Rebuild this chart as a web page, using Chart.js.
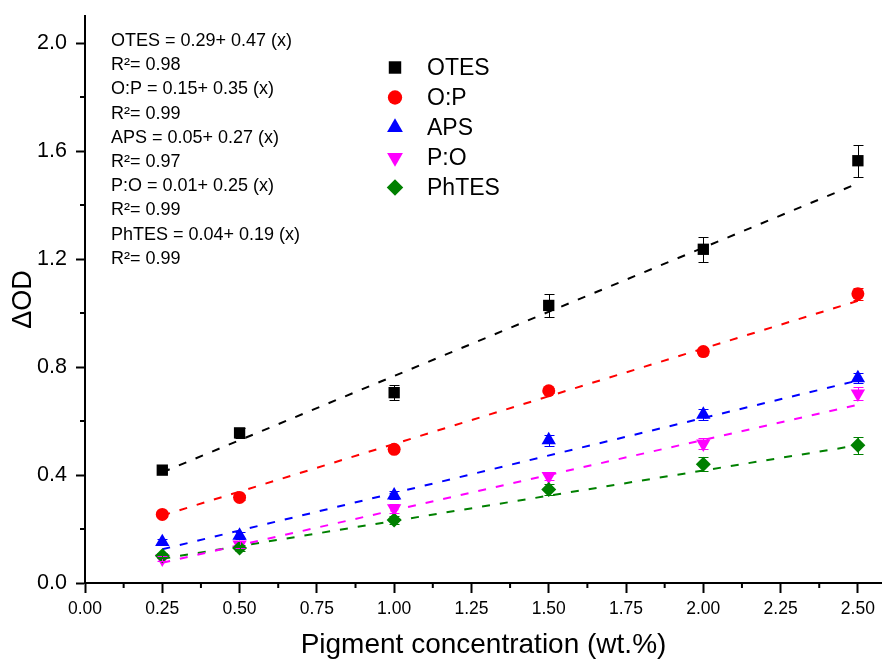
<!DOCTYPE html>
<html lang="en">
  <head>
    <meta charset="UTF-8" />
    <meta name="viewport" content="width=device-width, initial-scale=1.0" />
    <script src="https://cdn.jsdelivr.net/npm/chart.js@4.4.0/dist/chart.umd.min.js"></script>
    <title>Pigment concentration vs ΔOD</title>
    <style>
      body { margin: 0; background: #fff; overflow: hidden; }
      #wrap { width: 882px; height: 659px; }
    </style>
  </head>
  <body>
    <div id="wrap"><canvas id="myChart"></canvas></div>

    <script>
      // measured points (x = wt.%)
      const concentrations = [0.25, 0.5, 1.0, 1.5, 2.0, 2.5];
      const seriesNames = ["OTES", "O:P", "APS", "P:O", "PhTES"];

      const otes = [0.418, 0.556, 0.705, 1.028, 1.236, 1.564];
      const op = [0.254, 0.317, 0.495, 0.712, 0.857, 1.071];
      const aps = [0.152, 0.176, 0.325, 0.529, 0.624, 0.759];
      const po = [0.09, 0.142, 0.276, 0.396, 0.516, 0.701];
      const phtes = [0.101, 0.13, 0.233, 0.346, 0.44, 0.51];

      // error bar half heights
      const otesErr = [0.01, 0.018, 0.029, 0.041, 0.047, 0.06];
      const opErr = [0.008, 0.008, 0.01, 0.01, 0.012, 0.022];
      const apsErr = [0.01, 0.012, 0.015, 0.02, 0.02, 0.02];
      const poErr = [0.01, 0.012, 0.015, 0.015, 0.02, 0.025];
      const phtesErr = [0.01, 0.012, 0.015, 0.02, 0.026, 0.031];

      // linear fit lines, end points
      const fitX = [0.25, 2.5];
      const otesFit = [0.41, 1.48];
      const opFit = [0.25, 1.045];
      const apsFit = [0.125, 0.75];
      const poFit = [0.075, 0.66];
      const phtesFit = [0.09, 0.51];

      const fitEquations = [
        "OTES = 0.29+ 0.47 (x)",
        "O:P = 0.15+ 0.35 (x)",
        "APS = 0.05+ 0.27 (x)",
        "P:O = 0.01+ 0.25 (x)",
        "PhTES = 0.04+ 0.19 (x)"
      ];
      const fitR2 = ["0.98", "0.99", "0.97", "0.99", "0.99"];

      const xTickValues = [0, 0.25, 0.5, 0.75, 1.0, 1.25, 1.5, 1.75, 2.0, 2.25, 2.5];
      const xMinorTicks = [0.125, 0.375, 0.625, 0.875, 1.125, 1.375, 1.625, 1.875, 2.125, 2.375];
      const yTickValues = [0, 0.4, 0.8, 1.2, 1.6, 2.0];
      const yMinorTicks = [0.2, 0.6, 1.0, 1.4, 1.8];

      const values = [otes, op, aps, po, phtes];
      const errors = [otesErr, opErr, apsErr, poErr, phtesErr];
      const fits = [otesFit, opFit, apsFit, poFit, phtesFit];

      const colors = ["#000000", "#ff0000", "#0000ff", "#ff00ff", "#008000"];
      const markers = [
        { style: "rect", radius: 8, rotation: 0 },
        { style: "circle", radius: 6.5, rotation: 0 },
        { style: "triangle", radius: 8.3, rotation: 0 },
        { style: "triangle", radius: 8.3, rotation: 180 },
        { style: "rectRot", radius: 7.5, rotation: 0 }
      ];

      Chart.defaults.font.family = "'Liberation Sans', Arial, sans-serif";
      Chart.defaults.color = "#000";

      const datasets = [];
      seriesNames.forEach((name, i) => {
        datasets.push({
          label: name,
          data: concentrations.map((x, j) => ({ x: x, y: values[i][j] })),
          errors: errors[i],
          showLine: false,
          pointStyle: markers[i].style,
          pointRadius: markers[i].radius,
          pointRotation: markers[i].rotation,
          pointBorderWidth: 0,
          backgroundColor: colors[i],
          borderColor: colors[i],
          order: 5 - i
        });
      });
      seriesNames.forEach((name, i) => {
        datasets.push({
          label: name + " fit",
          data: fitX.map((x, j) => ({ x: x, y: fits[i][j] })),
          showLine: true,
          borderColor: colors[i],
          borderWidth: 2,
          borderDash: [8, 10],
          pointRadius: 0,
          order: 10
        });
      });

      const errorBars = {
        id: "errorBars",
        afterDatasetsDraw(chart) {
          const ctx = chart.ctx;
          const xs = chart.scales.x;
          const ys = chart.scales.y;
          chart.data.datasets.forEach(ds => {
            if (!ds.errors) return;
            ctx.save();
            ctx.strokeStyle = ds.borderColor;
            ctx.lineWidth = 1;
            ds.data.forEach((p, j) => {
              const px = Math.round(xs.getPixelForValue(p.x)) + 0.5;
              const top = Math.round(ys.getPixelForValue(p.y + ds.errors[j])) + 0.5;
              const bot = Math.round(ys.getPixelForValue(p.y - ds.errors[j])) + 0.5;
              ctx.beginPath();
              ctx.moveTo(px, top);
              ctx.lineTo(px, bot);
              ctx.moveTo(px - 5, top);
              ctx.lineTo(px + 5, top);
              ctx.moveTo(px - 5, bot);
              ctx.lineTo(px + 5, bot);
              ctx.stroke();
            });
            ctx.restore();
          });
        }
      };

      const minorTicks = {
        id: "minorTicks",
        afterDraw(chart) {
          const ctx = chart.ctx;
          const xs = chart.scales.x;
          const ys = chart.scales.y;
          ctx.save();
          ctx.strokeStyle = "#000";
          ctx.lineWidth = 2;
          ctx.beginPath();
          xMinorTicks.forEach(v => {
            const px = xs.getPixelForValue(v);
            ctx.moveTo(px, xs.top);
            ctx.lineTo(px, xs.top + 5);
          });
          yMinorTicks.forEach(v => {
            const py = ys.getPixelForValue(v);
            ctx.moveTo(ys.right, py);
            ctx.lineTo(ys.right - 5, py);
          });
          ctx.stroke();
          ctx.restore();
        }
      };

      const annotations = {
        id: "annotations",
        afterDraw(chart) {
          const ctx = chart.ctx;
          ctx.save();
          ctx.fillStyle = "#000";
          ctx.textBaseline = "middle";
          ctx.textAlign = "left";
          // fit equations
          ctx.font = "18px 'Liberation Sans', Arial, sans-serif";
          let y = 41;
          fitEquations.forEach((eq, i) => {
            ctx.fillText(eq, 111, y);
            y += 24.2;
            ctx.fillText("R\u00b2= " + fitR2[i], 111, y);
            y += 24.2;
          });
          // legend
          ctx.font = "23px 'Liberation Sans', Arial, sans-serif";
          seriesNames.forEach((name, i) => {
            const ly = 67.5 + i * 30;
            ctx.fillStyle = colors[i];
            Chart.helpers.drawPoint(ctx, {
              pointStyle: markers[i].style,
              radius: markers[i].radius * 1.1,
              rotation: markers[i].rotation,
              borderWidth: 0
            }, 395, ly);
            ctx.fillStyle = "#000";
            ctx.fillText(name, 427, ly + 1);
          });
          ctx.restore();
        }
      };

      const ctx = document.getElementById("myChart").getContext("2d");
      const chart = new Chart(ctx, {
        type: "scatter",
        data: { datasets: datasets },
        options: {
          responsive: true,
          maintainAspectRatio: false,
          animation: false,
          layout: {
            autoPadding: false,
            padding: { top: 16, right: 0, left: 0, bottom: 0 }
          },
          plugins: {
            legend: { display: false },
            tooltip: { enabled: false }
          },
          scales: {
            x: {
              type: "linear",
              min: 0,
              max: 2.578,
              afterBuildTicks: scale => {
                scale.ticks = xTickValues.map(v => ({ value: v }));
              },
              afterFit: scale => {
                scale.height = 76;
                scale.paddingLeft = 0;
                scale.paddingRight = 0;
              },
              ticks: {
                autoSkip: false,
                maxRotation: 0,
                padding: 6,
                font: { size: 17.5 },
                callback: v => Number(v).toFixed(2)
              },
              grid: {
                drawOnChartArea: false,
                tickLength: 10,
                tickWidth: 2,
                tickColor: "#000"
              },
              border: { display: true, color: "#000", width: 2 },
              title: {
                display: true,
                text: "Pigment concentration (wt.%)",
                font: { size: 28, lineHeight: 1 },
                padding: { top: 0, bottom: 0 }
              }
            },
            y: {
              type: "linear",
              min: 0,
              max: 2.1,
              afterBuildTicks: scale => {
                scale.ticks = yTickValues.map(v => ({ value: v }));
              },
              afterFit: scale => {
                scale.width = 85;
                scale.paddingTop = 0;
                scale.paddingBottom = 0;
              },
              ticks: {
                padding: 9,
                font: { size: 21.5 },
                callback: v => Number(v).toFixed(1)
              },
              grid: {
                drawOnChartArea: false,
                tickLength: 9,
                tickWidth: 2,
                tickColor: "#000"
              },
              border: { display: true, color: "#000", width: 2 },
              title: {
                display: true,
                text: "ΔOD",
                font: { size: 27 },
                padding: { top: 7, bottom: 0 }
              }
            }
          }
        },
        plugins: [errorBars, minorTicks, annotations]
      });
    </script>
  </body>
</html>
